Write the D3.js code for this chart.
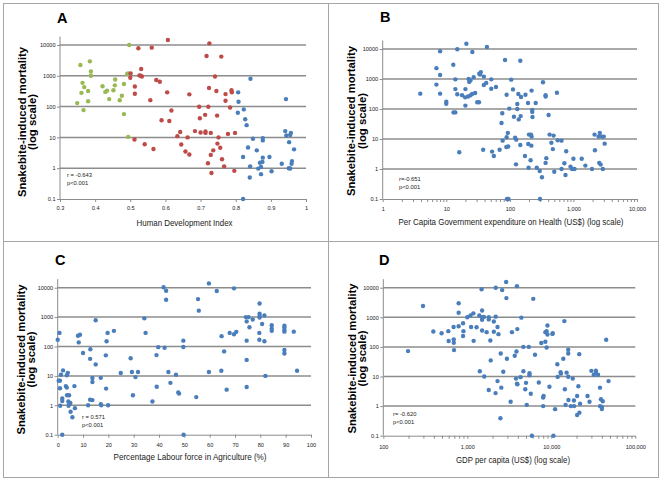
<!DOCTYPE html>
<html><head><meta charset="utf-8">
<script src="https://cdn.jsdelivr.net/npm/d3@7"></script>
<style>body{margin:0;background:#fff}svg{display:block}</style>
</head><body><svg id="c" width="662" height="482"></svg>
<script>
// ---------- DATA ----------
const yTickValues = [0.1, 1, 10, 100, 1000, 10000];
const yTickLabels = ["0.1", "1", "10", "100", "1000", "10000"];

// Panel A: Human Development Index (three groups)
const hdiLowX  = [0.349,0.358,0.385,0.388,0.388,0.364,0.369,0.361,0.38,0.38,0.367,0.421,0.429,0.434,0.44,0.452,0.457,0.456,0.47,0.476,0.482,0.482,0.491,0.494,0.497,0.494];
const hdiLowY  = [130,2230,2940,1380,1000,590,430,280,320,150,77,460,300,330,175,340,760,490,160,225,540,57,1140,1200,10000,10.4];
const hdiMidX  = [0.501,0.5,0.523,0.526,0.53,0.533,0.531,0.513,0.513,0.512,0.541,0.561,0.557,0.574,0.584,0.566,0.607,0.605,0.589,0.611,0.617,0.642,0.634,0.645,0.668,0.663,0.657,0.668,0.696,0.698,0.684,0.7,0.713,0.714,0.714,0.717,0.725,0.722,0.724,0.721,0.729,0.729,0.731,0.736,0.741,0.745,0.747,0.751,0.748,0.756,0.759,0.761,0.767,0.771,0.771,0.778,0.784,0.788,0.789,0.798,0.796];
const hdiMidY  = [1200,860,7800,1030,1000,950,1660,450,260,8.5,6,8200,162,730,640,4.2,14500,290,36,34,75,15,11,5.9,250,10,3.5,2.8,99,42,16,14.5,54,14,15.5,4400,11300,99,400,1.45,14,2.7,0.7,3.8,950,320,51,10,6.3,4.6,4200,1.95,1.15,255,155,13,94,340,290,14,0.82];
const hdiHighX = [0.842,0.807,0.808,0.806,0.823,0.827,0.831,0.821,0.835,0.841,0.84,0.821,0.849,0.86,0.864,0.869,0.872,0.872,0.876,0.877,0.877,0.877,0.896,0.902,0.931,0.943,0.941,0.944,0.952,0.955,0.957,0.955,0.959,0.96,0.966,0.951];
const hdiHighY = [800,290,143,63,81,39,25,2.3,4.7,1.15,0.5,0.1,9,3.8,0.97,1.5,1.1,0.64,1.6,2.2,8,9.5,2.3,0.8,1.4,175,16,11.5,7,12,14,0.98,1.4,1.7,4.1,1.0];

// Panel B: per capita government health expenditure (US$)
const healthX = [3.9,7,7,8,8,8,10,10,12.9,13.9,13.9,13,13.9,14.9,14.9,16,17.7,20,19.8,20,20.7,22.5,24,23,22,24,25.5,25.7,27,28.5,30.7,32.7,34,35,33,39,39,42.5,38,43.6,51,51,52.5,56,60.5,69,74,76,77,84,89,89,93,88,94,90,95,98,105,112,116,121,125,126,131,131,136,138,146,146,148,150,176,173,193,197,195,200,215,212,220,225,225,227,220,218,255,265,295,298,320,332,365,365,375,365,407,422,488,450,475,500,550,565,650,650,770,720,750,900,950,1000,1040,1350,1540,1960,2150,2180,2490,2600,2550,2680,2800,3000,2900,3100];
const healthY = [325,2300,650,8400,1360,325,175,150,3000,975,460,77,77,9800,310,3.6,290,460,245,130,15000,1000,900,800,260,285,315,7900,1150,340,167,167,1400,1700,1500,1200,630,740,4.4,11600,475,975,3.8,2.7,540,4.4,34,72,8.8,4300,300,11.4,16,5.4,5.6,0.1,0.1,103,950,450,55,11,1.43,9.5,147,100,316,45,6.3,4080,58,250,300,2.7,158,1.1,6.8,14,14,1.95,410,93,80,54,12,6,158,1.1,0.86,0.1,0.53,775,290,260,2.3,1.6,63,14,13,7.5,4.6,0.81,350,9,8.8,1.0,3.9,1.55,0.63,1.2,1.0,2.2,1.0,2.2,1.3,1.0,14,4.2,12,16,1.6,1.4,12,12,1.0,7];

// Panel C: percentage labour force in agriculture
const agriX = [0,0.7,0.4,0.9,0.9,1,1.3,2.1,1.8,1.8,1.8,3.2,3.6,3.6,4,3.7,4.2,4.5,4.6,5,4.3,5.1,5.8,6.6,6.8,8,8.3,8.8,10,12,12.9,12.8,12.8,13.7,13.7,13.7,15,15,17,17,17.2,19,19.3,19.7,19.1,19.9,22.2,24.9,28.8,29.3,29.7,30.7,31.7,34.2,34.7,37.4,39,39.1,39.7,41.8,42.2,42.8,42.8,43.7,44.5,46.7,47.6,47.9,49.6,49.6,49.7,54.7,55.4,55.7,59.7,59.7,62.8,64.7,64.6,65.7,66.7,67.9,69.6,69.6,70.5,74.3,74.6,74.6,74.6,74.6,75.4,75.7,77,79.7,79.7,79.7,79.7,79.6,79.6,80.7,81.6,81.6,82,84.5,84.5,84.5,89.5,89.5,89.5,89.5,89.5,89.5,93.2,94.5];
const agriY = [170,290,6.9,6.9,3.8,0.97,11,15.4,1.7,1.4,0.1,4.5,4,10.5,12.7,2.2,1.35,2.2,1.1,1.2,0.97,0.6,0.39,4.5,0.8,233,138,250,60,1.0,81,38,1.55,1.5,8.5,6.2,780,24.6,1.1,8.6,1.0,50,150,290,3.7,1.0,340,12.6,40,13.5,2.2,9.1,13.5,905,290,1.35,51,4.3,95,10300,91,7900,3900,13.5,5.8,11,2.75,2.5,158,96,0.1,1.9,4100,1660,14000,13.5,7700,225,15,68,3.4,290,9500,260,315,1000,715,158,35,4.2,1000,450,830,2900,1300,1100,970,290,170,580,1140,150,10,530,410,340,510,440,365,320,76,58,320,15];

// Panel D: GDP per capita (US$)
const gdpX = [197,297,394,494,594,600,687,690,690,695,789,789,789,890,900,890,1000,1090,1110,1180,1190,1290,1390,1410,1480,1500,1500,1500,1500,1580,1590,1700,1800,1800,1880,1800,1900,2070,2070,2180,2180,2170,2290,2290,2350,2500,2480,2540,2600,2680,2900,2920,2960,3280,3400,3670,3850,3800,3900,3950,3940,3900,4300,4400,4650,5400,4650,4900,5000,5100,5500,5500,5700,5880,6100,6400,7100,7600,7990,8100,8000,8500,8500,8800,8800,9000,9000,9500,10300,10400,10600,11100,11800,11900,12900,13000,13900,14300,14500,14800,15200,15900,15900,15900,16000,17100,18000,18600,18700,20300,20300,21000,21500,21600,22000,27000,28500,30000,32000,34000,34000,36000,38000,38000,39000,40000,41000,40000,45000,48000];
const gdpY = [72,2400,330,290,340,158,470,180,138,78,3000,1430,500,630,340,233,1000,1150,470,1360,160,460,1150,15,8800,1700,1010,830,360,1030,10,315,1000,850,165,3.5,35,325,720,10000,1050,2.75,7,470,270,60,0.39,4.2,8300,14.5,15500,4450,40,1.4,315,50,70,8.5,5.7,5.5,400,11300,9.5,975,100,100,15,3.7,6.1,1.1,13,11,2.6,0.1,4200,54,6.3,135,1.95,2.2,1.0,150,315,340,95,260,530,4.5,275,290,0.1,0.79,26,9.7,14,12.5,40,745,3.7,1.1,13.5,80,60,9.8,1.6,1.0,8.5,1.55,1.0,2.2,0.5,4.7,57,0.6,1.2,2.2,1.4,15.5,11.5,15.7,13,11.5,4.2,1.0,1.7,0.93,1.45,0.8,175,7];

const hdiTicks = [0.3,0.4,0.5,0.6,0.7,0.8,0.9,1];
const hdiTickLabels = ["0.3","0.4","0.5","0.6","0.7","0.8","0.9","1"];
const healthTicks = [1,10,100,1000,10000];
const healthTickLabels = ["1","10","100","1,000","10,000"];
const agriTicks = [0,10,20,30,40,50,60,70,80,90,100];
const agriTickLabels = ["0","10","20","30","40","50","60","70","80","90","100"];
const gdpTicks = [100,1000,10000,100000];
const gdpTickLabels = ["100","1,000","10,000","100,000"];

// ---------- DRAW ----------
const svg = d3.select("#c");
const SMALL = "'Liberation Sans Narrow','Arial Narrow','Liberation Sans',Arial,sans-serif";
const MAIN = "'Liberation Sans',Arial,Helvetica,sans-serif";
const BLUE = "#4a7ebb", RED = "#be4b48", GREEN = "#98b954";

svg.append("rect").attr("width",662).attr("height",482).attr("fill","#fff");
// frame
const frame = svg.append("g").attr("stroke","#a6a6a6").attr("stroke-width",1).attr("fill","none");
frame.append("rect").attr("x",3.5).attr("y",3.5).attr("width",655).attr("height",474);
frame.append("line").attr("x1",328.5).attr("x2",328.5).attr("y1",3.5).attr("y2",477.5);
frame.append("line").attr("x1",3.5).attr("x2",658.5).attr("y1",241.5).attr("y2",241.5);

function minorLog(lo, hi){
  const out=[];
  for(let d=lo; d<hi; d*=10) for(let k=2;k<=9;k++) out.push(d*k);
  return out;
}

function panel(cfg){
  const g = svg.append("g");
  const y = d3.scaleLog().domain([0.1,10000]).range([cfg.yB,cfg.yT]);
  const x = cfg.log ? d3.scaleLog().domain(cfg.xDomain).range([cfg.xL,cfg.xR])
                    : d3.scaleLinear().domain(cfg.xDomain).range([cfg.xL,cfg.xR]);
  // gridlines
  g.append("g").selectAll("line").data(yTickValues.slice(1)).join("line")
    .attr("x1",cfg.xL).attr("x2",cfg.xR)
    .attr("y1",d=>y(d)).attr("y2",d=>y(d))
    .attr("stroke","#8c8c8c").attr("stroke-width",1.5);
  // y axis
  const ya = g.append("g").attr("transform",`translate(${cfg.xL},0)`)
    .call(d3.axisLeft(y).tickValues(yTickValues).tickFormat((d,i)=>yTickLabels[i]).tickSize(3).tickSizeOuter(0));
  ya.select(".domain").remove();
  ya.append("line").attr("x1",0).attr("x2",0).attr("y1",cfg.yT-8.5).attr("y2",cfg.yB).attr("stroke","#8c8c8c");
  ya.selectAll(".tick line").attr("stroke","#8c8c8c");
  ya.selectAll(".tick text").attr("x",-4.5).attr("font-family",SMALL).attr("font-size",5.6).attr("fill","#222");
  // x axis
  const xa = g.append("g").attr("transform",`translate(0,${cfg.yB})`)
    .call(d3.axisBottom(x).tickValues(cfg.xTicks).tickFormat((d,i)=>cfg.xLabels[i]).tickSize(3).tickSizeOuter(0));
  xa.select(".domain").attr("stroke","#8c8c8c");
  xa.selectAll(".tick line").attr("stroke","#8c8c8c");
  xa.selectAll(".tick text").attr("y",cfg.xLabelDy).attr("font-family",SMALL).attr("font-size",5.6).attr("fill","#222");
  if(cfg.log){
    const mg = g.append("g").attr("transform",`translate(0,${cfg.yB})`)
      .call(d3.axisBottom(x).tickValues(minorLog(cfg.xDomain[0],cfg.xDomain[1])).tickFormat("").tickSize(3).tickSizeOuter(0));
    mg.select(".domain").remove();
    mg.selectAll(".tick line").attr("stroke","#8c8c8c");
  }
  // points
  cfg.series.forEach(s=>{
    g.append("g").selectAll("circle").data(s.xs.map((v,i)=>[v,s.ys[i]])).join("circle")
      .attr("cx",d=>x(d[0])).attr("cy",d=>y(d[1])).attr("r",2.2).attr("fill",s.color);
  });
  // letter
  g.append("text").attr("x",cfg.letter[0]).attr("y",cfg.letter[1]).text(cfg.letterText)
    .attr("font-family",MAIN).attr("font-weight","bold").attr("font-size",14.5).attr("fill","#000");
  // y title
  const yt = g.append("g").attr("font-family",MAIN).attr("font-weight","bold").attr("font-size",11).attr("fill","#000").attr("text-anchor","middle");
  yt.append("text").attr("transform",`translate(${cfg.yTitleX[0]},${cfg.yTitleCy}) rotate(-90)`)
    .attr("textLength",150).attr("lengthAdjust","spacingAndGlyphs").text("Snakebite-induced mortality");
  yt.append("text").attr("transform",`translate(${cfg.yTitleX[1]},${cfg.yTitleCy}) rotate(-90)`)
    .attr("textLength",56).attr("lengthAdjust","spacingAndGlyphs").text("(log scale)");
  // x title
  g.append("text").attr("x",cfg.xTitle[0]).attr("y",cfg.xTitle[1]).attr("text-anchor","middle")
    .attr("font-family",MAIN).attr("font-size",9).attr("fill","#222")
    .attr("textLength",cfg.xTitleW).attr("lengthAdjust","spacingAndGlyphs").text(cfg.xTitleText);
  // stats
  const st = g.append("g").attr("font-family",SMALL).attr("font-size",5.8).attr("fill","#222");
  st.append("text").attr("x",cfg.stat[0]).attr("y",cfg.stat[1]).text(cfg.statText[0]);
  st.append("text").attr("x",cfg.stat[0]).attr("y",cfg.stat[1]+8).text(cfg.statText[1]);
}

panel({xL:60,xR:306,yT:45,yB:199,log:false,xDomain:[0.3,1],xTicks:hdiTicks,xLabels:hdiTickLabels,xLabelDy:7,
  series:[{xs:hdiLowX,ys:hdiLowY,color:GREEN},{xs:hdiMidX,ys:hdiMidY,color:RED},{xs:hdiHighX,ys:hdiHighY,color:BLUE}],
  letter:[57,23],letterText:"A",yTitleX:[26,36],yTitleCy:122,xTitle:[184.5,226],xTitleW:96,xTitleText:"Human Development Index",
  stat:[67,177],statText:["r = -0.643","p<0.001"]});

panel({xL:382.7,xR:637,yT:49,yB:199,log:true,xDomain:[1,10000],xTicks:healthTicks,xLabels:healthTickLabels,xLabelDy:8,
  series:[{xs:healthX,ys:healthY,color:BLUE}],
  letter:[380,22],letterText:"B",yTitleX:[355,366],yTitleCy:121,xTitle:[511,225],xTitleW:225,xTitleText:"Per Capita Government expenditure on Health (US$) (log scale)",
  stat:[399,181],statText:["r=-0.651","p<0.001"]});

panel({xL:57.7,xR:311,yT:287.7,yB:434.7,log:false,xDomain:[0,100],xTicks:agriTicks,xLabels:agriTickLabels,xLabelDy:8,
  series:[{xs:agriX,ys:agriY,color:BLUE}],
  letter:[55,264.5],letterText:"C",yTitleX:[25,35],yTitleCy:359.5,xTitle:[190,460],xTitleW:153,xTitleText:"Percentage Labour force in Agriculture (%)",
  stat:[82,419],statText:["r = 0.571","p<0.001"]});

panel({xL:383.3,xR:635.3,yT:287.7,yB:435.7,log:true,xDomain:[100,100000],xTicks:gdpTicks,xLabels:gdpTickLabels,xLabelDy:9,
  series:[{xs:gdpX,ys:gdpY,color:BLUE}],
  letter:[379,264.5],letterText:"D",yTitleX:[356,366],yTitleCy:358.5,xTitle:[513,463],xTitleW:114,xTitleText:"GDP per capita (US$) (log scale)",
  stat:[393,416],statText:["r= -0.620","p<0.001"]});
</script></body></html>
